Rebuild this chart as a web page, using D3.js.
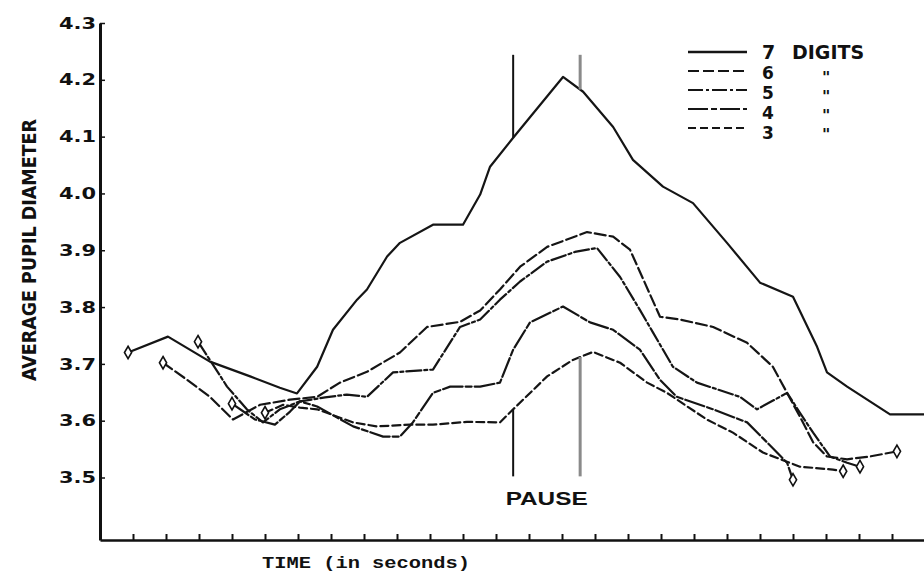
<!DOCTYPE html>
<meta charset="utf-8" />
<style>
  body { margin: 0; background: #fff; }
  svg { display: block; background: #fff; }
  .curve { fill: none; stroke: #151515; stroke-width: 2.2px; stroke-linejoin: round; stroke-linecap: round; }
  .axis path, .axis line { stroke: #111; }
  text { fill: #111; }
</style>
<body>
<script src="https://d3js.org/d3.v7.min.js"></script>
<script>

// time (in seconds) and average pupil diameter
var time7  = [0.85, 2.06, 3.33, 4.55, 5.45, 5.97, 6.58, 7.06, 7.79, 8.09, 8.7, 9.09, 10.09, 11.0, 11.52, 11.82, 12.52, 14.03, 14.64, 15.55, 16.15, 17.06, 17.97, 19.0, 20.0, 21.0, 21.73, 22.03, 22.64, 23.94, 24.97];
var pupil7 = [3.72, 3.748, 3.704, 3.678, 3.658, 3.648, 3.695, 3.76, 3.813, 3.831, 3.889, 3.913, 3.945, 3.945, 3.998, 4.047, 4.098, 4.205, 4.179, 4.117, 4.059, 4.012, 3.983, 3.913, 3.843, 3.818, 3.73, 3.685, 3.66, 3.611, 3.611];

var time6  = [1.91, 2.64, 3.33, 4.03, 4.85, 5.76, 6.58, 7.27, 8.09, 9.09, 9.91, 10.91, 11.52, 12.12, 12.73, 13.55, 14.76, 15.55, 16.06, 16.97, 17.58, 18.58, 19.61, 20.39, 20.82, 21.21, 21.61, 22.03, 22.64, 23.33, 24.15];
var pupil6 = [3.702, 3.672, 3.642, 3.602, 3.628, 3.637, 3.642, 3.667, 3.686, 3.72, 3.765, 3.774, 3.794, 3.831, 3.871, 3.906, 3.932, 3.924, 3.901, 3.783, 3.778, 3.765, 3.737, 3.695, 3.649, 3.607, 3.562, 3.537, 3.532, 3.537, 3.546];

var time5  = [2.97, 3.33, 3.85, 4.45, 4.94, 5.45, 6.06, 6.82, 7.48, 8.09, 8.88, 10.09, 10.91, 11.52, 12.12, 12.73, 13.55, 14.39, 15.06, 15.76, 16.36, 16.76, 17.36, 18.09, 19.39, 19.91, 20.82, 21.21, 21.61, 22.12, 22.64, 23.03];
var pupil5 = [3.739, 3.707, 3.66, 3.62, 3.597, 3.62, 3.634, 3.641, 3.646, 3.642, 3.685, 3.69, 3.765, 3.778, 3.813, 3.845, 3.88, 3.897, 3.904, 3.853, 3.795, 3.755, 3.695, 3.667, 3.642, 3.62, 3.649, 3.614, 3.579, 3.537, 3.526, 3.519];

var time4  = [4.0, 4.7, 5.3, 5.76, 6.06, 6.58, 7.67, 8.58, 9.09, 9.48, 10.09, 10.61, 11.52, 12.12, 12.52, 13.03, 14.03, 14.85, 15.55, 16.36, 16.97, 17.48, 18.58, 19.61, 20.21, 20.82, 21.0];
var pupil4 = [3.63, 3.602, 3.593, 3.616, 3.634, 3.625, 3.59, 3.572, 3.572, 3.597, 3.649, 3.66, 3.66, 3.667, 3.725, 3.773, 3.801, 3.773, 3.76, 3.725, 3.672, 3.642, 3.62, 3.597, 3.562, 3.526, 3.496];

var time3  = [5.0, 5.55, 6.06, 6.58, 7.67, 8.39, 9.39, 10.09, 11.12, 12.12, 12.52, 13.55, 14.33, 14.94, 15.76, 16.58, 17.18, 18.39, 19.18, 20.09, 21.21, 22.21, 22.52];
var pupil3 = [3.614, 3.628, 3.623, 3.62, 3.597, 3.59, 3.593, 3.593, 3.598, 3.597, 3.62, 3.678, 3.707, 3.721, 3.702, 3.667, 3.649, 3.602, 3.579, 3.544, 3.519, 3.514, 3.511];

var digitCounts = ["7", "6", "5", "4", "3"];
var pauseTimes = [12.52, 14.55];
var yTickValues = [3.5, 3.6, 3.7, 3.8, 3.9, 4.0, 4.1, 4.2, 4.3];
var xTickValues = d3.range(1, 25);

var width = 924, height = 578;

var svg = d3.select("body").append("svg")
    .attr("width", width)
    .attr("height", height);

var x = d3.scaleLinear().domain([0, 25]).range([100, 925]);
var y = d3.scaleLinear().domain([3.39, 4.3]).range([540, 23]);

var series = [
  { n: "7", t: time7, v: pupil7 },
  { n: "6", t: time6, v: pupil6 },
  { n: "5", t: time5, v: pupil5 },
  { n: "4", t: time4, v: pupil4 },
  { n: "3", t: time3, v: pupil3 }
];
var dashes = { "7": null, "6": "11,4", "5": "15,3,3,3", "4": "20,3,6,3", "3": "8,4" };

var line = d3.line()
    .x(function(d) { return x(d[0]); })
    .y(function(d) { return y(d[1]); });

// linear lookup on a series, used to end the pause markers on the curves
function valueAt(s, t) {
  var i = d3.bisectRight(s.t, t);
  var t0 = s.t[i - 1], t1 = s.t[i];
  return s.v[i - 1] + (s.v[i] - s.v[i - 1]) * (t - t0) / (t1 - t0);
}

// Y axis
var yAxis = svg.append("g")
    .attr("class", "axis")
    .attr("transform", "translate(" + x(0) + ",0)")
    .call(d3.axisLeft(y).tickValues(yTickValues).tickSize(-5).tickSizeOuter(0)
      .tickFormat(d3.format(".1f")).tickPadding(4));
yAxis.select(".domain").style("stroke-width", 3);
yAxis.selectAll(".tick line").style("stroke-width", 1.5);
yAxis.selectAll(".tick text")
    .attr("x", -4)
    .style("font-family", "DejaVu Sans")
    .style("font-weight", "bold")
    .style("font-size", "16px")
    .attr("textLength", 37)
    .attr("lengthAdjust", "spacingAndGlyphs");

// X axis
var xAxis = svg.append("g")
    .attr("class", "axis")
    .attr("transform", "translate(0," + y(3.39) + ")")
    .call(d3.axisBottom(x).tickValues(xTickValues).tickSize(-6).tickSizeOuter(0).tickFormat(""));
xAxis.select(".domain").style("stroke-width", 2.6);
xAxis.selectAll(".tick line").style("stroke-width", 2);

svg.append("text")
    .attr("transform", "translate(36,250)rotate(-90)")
    .attr("text-anchor", "middle")
    .style("font-family", "DejaVu Sans Condensed")
    .style("font-weight", "bold")
    .style("font-size", "19px")
    .attr("textLength", 262)
    .attr("lengthAdjust", "spacingAndGlyphs")
    .text("AVERAGE PUPIL DIAMETER");

svg.append("text")
    .attr("x", 262)
    .attr("y", 568)
    .style("font-family", "Liberation Mono")
    .style("font-weight", "bold")
    .style("font-size", "16px")
    .attr("textLength", 208)
    .attr("lengthAdjust", "spacingAndGlyphs")
    .text("TIME (in seconds)");

// curves
svg.selectAll(".curve")
    .data(series)
    .enter().append("path")
    .attr("class", "curve")
    .attr("d", function(s) { return line(d3.zip(s.t, s.v)); })
    .style("stroke-dasharray", function(s) { return dashes[s.n]; });

// small hollow markers at the start and end of each curve
var ends = [];
series.forEach(function(s, i) {
  ends.push([s.t[0], s.v[0]]);
  if (i > 0) ends.push([s.t[s.t.length - 1], s.v[s.v.length - 1]]);
});
svg.selectAll(".mark")
    .data(ends)
    .enter().append("path")
    .attr("class", "mark")
    .attr("transform", function(d) { return "translate(" + x(d[0]) + "," + y(d[1]) + ")"; })
    .attr("d", d3.symbol().type(d3.symbolDiamond).size(45))
    .style("fill", "#fff")
    .style("stroke", "#111")
    .style("stroke-width", 1.6);

// pause markers: above the 7 digit curve, below the 3 digit curve
pauseTimes.forEach(function(t, i) {
  var col = i === 0 ? "#111" : "#8a8a8a";
  svg.append("line")
      .attr("x1", x(t)).attr("x2", x(t))
      .attr("y1", y(4.244)).attr("y2", y(valueAt(series[0], t)))
      .style("stroke", col).style("stroke-width", i === 0 ? 2 : 3);
  svg.append("line")
      .attr("x1", x(t)).attr("x2", x(t))
      .attr("y1", y(valueAt(series[4], t))).attr("y2", y(3.502))
      .style("stroke", col).style("stroke-width", i === 0 ? 2 : 3);
});

svg.append("text")
    .attr("x", (x(pauseTimes[0]) + x(pauseTimes[1])) / 2)
    .attr("y", 505)
    .attr("text-anchor", "middle")
    .style("font-family", "Liberation Sans")
    .style("font-weight", "bold")
    .style("font-size", "19px")
    .attr("textLength", 82)
    .attr("lengthAdjust", "spacingAndGlyphs")
    .text("PAUSE");

// legend
var legend = svg.append("g");
digitCounts.forEach(function(n, i) {
  var ry = 52 + i * 19;
  legend.append("line")
      .attr("x1", 688).attr("x2", 747)
      .attr("y1", ry).attr("y2", ry)
      .style("stroke", "#151515")
      .style("stroke-width", i === 0 ? 2.6 : 2)
      .style("stroke-dasharray", dashes[n]);
  legend.append("text")
      .attr("x", 762)
      .attr("y", ry + 7 + i)
      .style("font-family", "DejaVu Sans")
      .style("font-weight", "bold")
      .style("font-size", i === 0 ? "19px" : "17px")
      .text(n);
  legend.append("text")
      .attr("x", i === 0 ? 792 : 822)
      .attr("y", i === 0 ? ry + 7 : ry + 12)
      .style("font-family", "DejaVu Sans")
      .style("font-weight", "bold")
      .style("font-size", i === 0 ? "19px" : "16px")
      .style("fill", "#111")
      .text(i === 0 ? "DIGITS" : "\"");
});

</script>
</body>
